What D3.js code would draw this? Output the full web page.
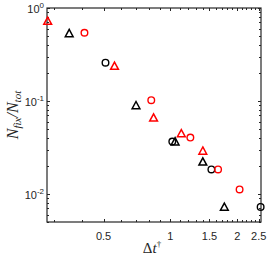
<!DOCTYPE html>
<html><head><meta charset="utf-8">
<script src="https://cdn.jsdelivr.net/npm/d3@7"></script>
<style>
html,body{margin:0;padding:0;background:#fff;}
svg{display:block;}
</style></head>
<body><svg id="c" width="269" height="258"></svg>
<script>
const blackCirclesX = [0.51, 1.02, 1.53, 2.55];
const blackCirclesY = [0.258, 0.0367, 0.0184, 0.00726];
const blackTrianglesX = [0.35, 0.70, 1.05, 1.40, 1.75];
const blackTrianglesY = [0.534, 0.0897, 0.0366, 0.0222, 0.00726];
const redCirclesX = [0.41, 0.82, 1.23, 1.64, 2.05];
const redCirclesY = [0.542, 0.102, 0.0404, 0.0184, 0.0112];
const redTrianglesX = [0.28, 0.56, 0.84, 1.12, 1.40];
const redTrianglesY = [0.724, 0.238, 0.066, 0.0448, 0.0291];
const xTickValues = [0.5, 1, 1.5, 2, 2.5];
const xTickLabels = ["0.5", "1", "1.5", "2", "2.5"];
const yTickValues = [1, 0.1, 0.01];
const yTickExponents = ["0", "-1", "-2"];

const W = 269, H = 258;
const m = {l: 47, r: 8, t: 8, b: 36};
const svg = d3.select("#c");
const x = d3.scaleLog().domain([0.278, 2.56]).range([m.l, W - m.r]);
const y = d3.scaleLog().domain([0.005, 1]).range([H - m.b, m.t]);
const axCol = "#262626";

const xMinor = d3.range(3, 26).map(v => v / 10).filter(v => v >= 0.278 && v <= 2.56 && !xTickValues.some(t => Math.abs(t - v) < 1e-9));
const yMinor = [];
[0.001, 0.01, 0.1].forEach(d => { for (let k = 2; k <= 9; k++) { const v = d * k; if (v >= 0.005 && v <= 1) yMinor.push(v); } });

const g = svg.append("g");
function tickX(vals, len) {
  vals.forEach(v => {
    const px = Math.round(x(v)) + 0.5;
    g.append("line").attr("x1", px).attr("x2", px).attr("y1", H - m.b).attr("y2", H - m.b - len).attr("stroke", axCol).attr("stroke-width", 1);
    g.append("line").attr("x1", px).attr("x2", px).attr("y1", m.t).attr("y2", m.t + len).attr("stroke", axCol).attr("stroke-width", 1);
  });
}
function tickY(vals, len) {
  vals.forEach(v => {
    const py = Math.round(y(v)) + 0.5;
    g.append("line").attr("y1", py).attr("y2", py).attr("x1", m.l).attr("x2", m.l + len).attr("stroke", axCol).attr("stroke-width", 1);
    g.append("line").attr("y1", py).attr("y2", py).attr("x1", W - m.r).attr("x2", W - m.r - len).attr("stroke", axCol).attr("stroke-width", 1);
  });
}
tickX(xMinor, 2); tickX(xTickValues, 3);
tickY(yMinor, 2); tickY(yTickValues, 3);

svg.append("rect").attr("x", m.l).attr("y", m.t).attr("width", W - m.l - m.r).attr("height", H - m.t - m.b)
  .attr("fill", "none").attr("stroke", axCol).attr("stroke-width", 1.2);

svg.append("g").selectAll("text").data(xTickValues).join("text")
  .attr("x", d => x(d)).attr("y", 240).attr("text-anchor", "middle")
  .attr("font-family", "Liberation Sans, Arial, sans-serif").attr("font-size", 11).attr("fill", axCol)
  .text((d, i) => xTickLabels[i]);

yTickValues.forEach((v, i) => {
  const t = svg.append("text").attr("x", 44).attr("y", y(v) + 5).attr("text-anchor", "end")
    .attr("font-family", "Liberation Sans, Arial, sans-serif").attr("font-size", 11).attr("fill", axCol);
  t.append("tspan").text("10");
  t.append("tspan").attr("dy", -5).attr("font-size", 8).text(yTickExponents[i]);
});

const xl = svg.append("text").attr("x", (m.l + W - m.r) / 2 - 2).attr("y", 253).attr("text-anchor", "middle")
  .attr("font-family", "Liberation Serif, serif").attr("font-size", 15).attr("fill", axCol);
xl.append("tspan").text("Δ");
xl.append("tspan").attr("font-style", "italic").text("t");
xl.append("tspan").attr("dy", -6).attr("font-size", 9).text("†");

const yl = svg.append("text").attr("transform", `translate(18,${(m.t + H - m.b) / 2}) rotate(-90)`)
  .attr("text-anchor", "middle").attr("font-family", "Liberation Serif, serif").attr("font-size", 16)
  .attr("font-style", "italic").attr("fill", axCol);
yl.append("tspan").text("N");
yl.append("tspan").attr("dy", 3).attr("font-size", 11).text("fix");
yl.append("tspan").attr("dy", -3).text("/N");
yl.append("tspan").attr("dy", 3).attr("font-size", 11).text("tot");

const mk = svg.append("g");
function circles(xs, ys, col) {
  mk.append("g").selectAll("circle").data(xs).join("circle")
    .attr("cx", d => x(d)).attr("cy", (d, i) => y(ys[i])).attr("r", 3.3)
    .attr("fill", "none").attr("stroke", col).attr("stroke-width", 1.4);
}
function triangles(xs, ys, col) {
  const s = 3.9;
  mk.append("g").selectAll("path").data(xs).join("path")
    .attr("d", (d, i) => {
      const cx = x(d), cy = y(ys[i]);
      return `M${cx},${cy - s}L${cx + s},${cy + s * 0.85}L${cx - s},${cy + s * 0.85}Z`;
    })
    .attr("fill", "none").attr("stroke", col).attr("stroke-width", 1.5);
}
circles(blackCirclesX, blackCirclesY, "#000");
triangles(blackTrianglesX, blackTrianglesY, "#000");
circles(redCirclesX, redCirclesY, "#ff0000");
triangles(redTrianglesX, redTrianglesY, "#ff0000");
</script></body></html>
